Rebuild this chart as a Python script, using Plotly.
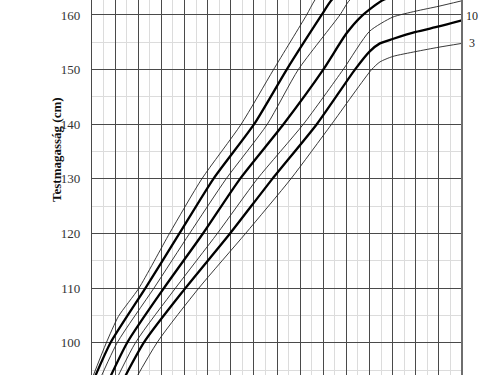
import plotly.graph_objects as go

# Percentile curves: ages (years) and heights (cm)
age_p97 = [2.0, 2.62, 3.14, 4.03, 5.35, 6.75, 8.45, 9.85, 11.28, 11.64, 12.5, 13.5]
h_p97 = [93.4, 100.0, 104.8, 110.0, 120.0, 130.0, 140.0, 150.0, 160.0, 162.74, 167.0, 170.0]

age_p90 = [2.0, 2.8, 4.31, 5.78, 7.25, 9.01, 10.42, 11.93, 12.36, 13.3, 14.5]
h_p90 = [92.5, 100.0, 110.0, 120.0, 130.0, 140.0, 150.0, 160.0, 162.74, 166.0, 168.5]

age_p75 = [2.0, 3.09, 4.68, 6.22, 7.8, 9.58, 10.92, 12.72, 13.15, 14.3, 15.5]
h_p75 = [90.0, 100.0, 110.0, 120.0, 130.0, 140.0, 150.0, 160.0, 162.74, 165.5, 167.0]

age_p50 = [2.0, 3.52, 5.11, 6.8, 8.4, 10.28, 12.0, 13.0, 13.66, 14.59, 16.0, 18.0]
h_p50 = [86.5, 100.0, 110.0, 120.0, 130.0, 140.0, 150.0, 156.6, 159.8, 162.74, 164.5, 165.5]

age_p25 = [2.0, 3.88, 5.61, 7.42, 9.15, 11.14, 12.86, 14.0, 15.0, 16.0, 17.0, 18.0]
h_p25 = [84.0, 100.0, 110.0, 120.0, 130.0, 140.0, 150.0, 157.0, 159.6, 160.7, 161.6, 162.6]

age_p10 = [2.0, 4.24, 6.04, 7.97, 9.8, 11.72, 13.37, 14.0, 14.45, 15.0, 16.0, 17.0, 18.0]
h_p10 = [82.0, 100.0, 110.0, 120.0, 130.0, 140.0, 150.0, 153.3, 154.8, 155.6, 156.9, 157.9, 159.0]

age_p3 = [2.0, 4.81, 6.62, 8.64, 10.6, 12.36, 14.09, 14.45, 15.0, 16.0, 17.0, 18.0]
h_p3 = [79.0, 100.0, 110.0, 120.0, 130.0, 140.0, 150.0, 151.4, 152.4, 153.3, 154.1, 154.8]

series = [("97", age_p97, h_p97, False), ("90", age_p90, h_p90, True),
          ("75", age_p75, h_p75, False), ("50", age_p50, h_p50, True),
          ("25", age_p25, h_p25, False), ("10", age_p10, h_p10, True),
          ("3", age_p3, h_p3, False)]

right_labels = [("25", 163.35, 2), ("10", 159.85, 1.5), ("3", 154.9, 4.5)]

fig = go.Figure()
for name, xs, ys, thick in series:
    fig.add_trace(go.Scatter(
        x=xs, y=ys, mode="lines", name=name,
        line=dict(color="#000000" if thick else "#222222", width=2.3 if thick else 0.9,
                  shape="spline", smoothing=0.6),
        showlegend=False, hoverinfo="skip"))

for txt, yv, xsft in right_labels:
    fig.add_annotation(x=18, y=yv, text=txt, showarrow=False, xanchor="left",
                       yanchor="middle", xshift=xsft, xref="x", yref="y",
                       font=dict(family="Liberation Serif", size=12, color="#222"))

fig.add_annotation(x=(56 - 92) / 370, y=1 - 150 / 375, xref="paper", yref="paper",
                   text="<b>Testmagasság (cm)</b>", textangle=-90, showarrow=False,
                   xanchor="center", yanchor="middle",
                   font=dict(family="Liberation Serif", size=13, color="#111"))

fig.add_shape(type="line", xref="paper", yref="paper", x0=1, x1=1, y0=0, y1=1,
              line=dict(color="#6e6e6e", width=2))

fig.update_layout(
    width=500, height=375,
    margin=dict(l=92, r=38, t=0, b=0),
    paper_bgcolor="white", plot_bgcolor="white",
    xaxis=dict(range=[2, 18], dtick=1, tick0=2, showgrid=True, gridcolor="#4a4a4a", gridwidth=1.2,
               showticklabels=False, zeroline=False, showline=False,
               minor=dict(dtick=0.5, tick0=2, showgrid=True, gridcolor="#dcdcdc", gridwidth=1)),
    yaxis=dict(range=[94.09, 162.74], dtick=10, tick0=100, showgrid=True, gridcolor="#4a4a4a",
               gridwidth=1.2, zeroline=False, showline=True, linecolor="#4a4a4a", linewidth=1.2,
               ticks="outside", ticklen=8, tickcolor="rgba(0,0,0,0)",
               tickfont=dict(family="Liberation Serif", size=13, color="#333"),
               minor=dict(dtick=5, tick0=100, showgrid=True, gridcolor="#dcdcdc", gridwidth=1)),
)

fig.write_html("out.html")
